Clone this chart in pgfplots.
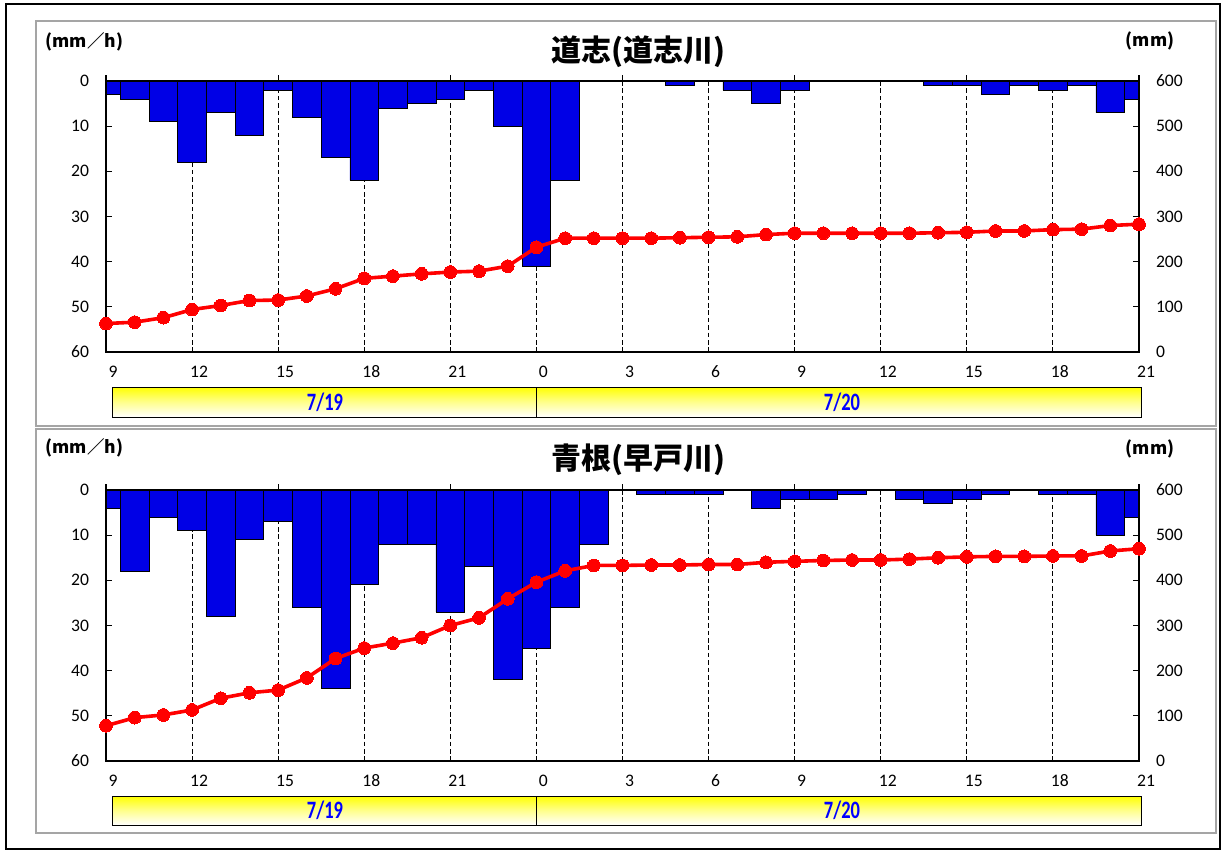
\documentclass[border=0pt]{standalone}
\usepackage{fontspec}
\setmainfont{Carlito}
\newfontfamily\cjk{Noto Sans CJK JP}
\usepackage{pgfplots}
\usepackage{pgfplotstable}
\usepackage{graphicx}
\pgfplotsset{compat=1.18}

\definecolor{barblue}{RGB}{0,0,230}
\definecolor{panelgray}{RGB}{165,165,165}
\definecolor{datblue}{RGB}{0,0,255}

\pgfplotstableread{
x rain cum
0 3 63
1 4 66
2 9 76
3 18 94
4 7 103
5 12 114
6 2 115
7 8 124
8 17 140
9 22 163
10 6 168
11 5 173
12 4 177
13 2 179
14 10 190
15 41 232
16 22 252
17 0 252
18 0 252
19 0 252
20 1 253
21 0 254
22 2 255
23 5 260
24 2 263
25 0 263
26 0 263
27 0 263
28 0 263
29 1 264
30 1 265
31 3 268
32 1 268
33 2 271
34 1 272
35 7 280
36 4 283
}\tblA

\pgfplotstableread{
x rain cum
0 4 78
1 18 96
2 6 102
3 9 113
4 28 139
5 11 151
6 7 157
7 26 184
8 44 227
9 21 250
10 12 261
11 12 273
12 27 300
13 17 317
14 42 359
15 35 396
16 26 421
17 12 433
18 0 433
19 1 434
20 1 434
21 1 435
22 0 435
23 4 440
24 2 442
25 2 444
26 1 445
27 0 445
28 2 447
29 3 450
30 2 452
31 1 453
32 0 453
33 1 454
34 1 454
35 10 465
36 6 470
}\tblB

\pgfplotsset{
  common/.style={
    scale only axis, width=516.5pt, height=135.5pt,
    xmin=0, xmax=36,
    axis line style={line width=1pt},
    major tick length=2.8pt,
    tick style={black, line width=0.6pt},
    /pgf/number format/assume math mode=true,
    tick label style={font=\fontsize{8.8}{10}\selectfont},
  },
  baraxis/.style={
    common,
    ymin=0, ymax=60, y dir=reverse,
    ytick={0,10,...,60}, ytick pos=left, ytick align=inside,
    yticklabel style={anchor=east, xshift=-5pt},
    xtick={0,3,...,36},
    xticklabels={9,12,15,18,21,0,3,6,9,12,15,18,21},
    xtick pos=bottom,
    xtick style={draw=none},
    xticklabel style={anchor=center, yshift=-10pt, xshift=3.5pt},
    xmajorgrids,
    major x grid style={black, line width=0.5pt, dash pattern=on 2.3pt off 1.4pt},
  },
  lineaxis/.style={
    common,
    ymin=0, ymax=600,
    ytick={0,100,...,600}, ytick pos=right, ytick align=inside,
    yticklabel style={anchor=west, xshift=5pt},
    xtick={0,6,...,36}, xticklabels={}, xtick pos=top, xtick align=outside,
    clip=false,
  },
}

\begin{document}
\begin{tikzpicture}
\path[use as bounding box] (0pt,0pt) rectangle (611pt,-425.5pt);
% frames
\draw[black, line width=1pt] (3pt,-2pt) rectangle (610pt,-424.5pt);
\draw[panelgray, line width=0.8pt] (18pt,-10.5pt) rectangle (608pt,-213pt);
\draw[panelgray, line width=0.8pt] (18pt,-214.5pt) rectangle (608pt,-416.5pt);

% ---------- top panel ----------
\begin{axis}[baraxis, at={(53pt,-40.5pt)}, anchor=north west]
\addplot[ybar, bar width=1, fill=barblue, draw=black, line width=0.4pt] table[x=x, y=rain]{\tblA};
\end{axis}
\begin{axis}[lineaxis, at={(53pt,-40.5pt)}, anchor=north west]
\addplot[red, line width=1.8pt, mark=*, mark size=3.2pt, mark options={fill=red, draw=red, line width=0pt}] table[x=x, y=cum]{\tblA};
\end{axis}

% ---------- bottom panel ----------
\begin{axis}[baraxis, at={(53pt,-245pt)}, anchor=north west]
\addplot[ybar, bar width=1, fill=barblue, draw=black, line width=0.4pt] table[x=x, y=rain]{\tblB};
\end{axis}
\begin{axis}[lineaxis, at={(53pt,-245pt)}, anchor=north west]
\addplot[red, line width=1.8pt, mark=*, mark size=3.2pt, mark options={fill=red, draw=red, line width=0pt}] table[x=x, y=cum]{\tblB};
\end{axis}

% titles and units
\node[font=\cjk\bfseries\fontsize{15}{17}\selectfont] at (319pt,-26pt) {道志(道志川)};
\node[font=\cjk\bfseries\fontsize{15}{17}\selectfont] at (319pt,-230pt) {青根(早戸川)};
\node[font=\cjk\bfseries\fontsize{8.75}{10}\selectfont] at (42.25pt,-21pt) {(mm／h)};
\node[font=\cjk\bfseries\fontsize{8.75}{10}\selectfont] at (42.25pt,-224pt) {(mm／h)};
\node[font=\cjk\bfseries\fontsize{8.75}{10}\selectfont] at (575pt,-20.5pt) {(mm)};
\node[font=\cjk\bfseries\fontsize{8.75}{10}\selectfont] at (575pt,-224.5pt) {(mm)};

% date boxes
\shade[top color=yellow, bottom color=white, middle color=yellow!45] (56pt,-193.5pt) rectangle (570.5pt,-208.5pt);
\draw[black, line width=0.5pt] (56pt,-193.5pt) rectangle (570.5pt,-208.5pt);
\draw[black, line width=0.5pt] (268pt,-193.5pt) -- (268pt,-208.5pt);
\node[text=datblue] at (162.5pt,-201pt) {\scalebox{0.74}[1]{\fontsize{12.5}{14}\selectfont\bfseries 7/19}};
\node[text=datblue] at (421pt,-201pt) {\scalebox{0.74}[1]{\fontsize{12.5}{14}\selectfont\bfseries 7/20}};

\shade[top color=yellow, bottom color=white, middle color=yellow!45] (56pt,-398pt) rectangle (570.5pt,-412.5pt);
\draw[black, line width=0.5pt] (56pt,-398pt) rectangle (570.5pt,-412.5pt);
\draw[black, line width=0.5pt] (268pt,-398pt) -- (268pt,-412.5pt);
\node[text=datblue] at (162.5pt,-405.25pt) {\scalebox{0.74}[1]{\fontsize{12.5}{14}\selectfont\bfseries 7/19}};
\node[text=datblue] at (421pt,-405.25pt) {\scalebox{0.74}[1]{\fontsize{12.5}{14}\selectfont\bfseries 7/20}};
\end{tikzpicture}
\end{document}
